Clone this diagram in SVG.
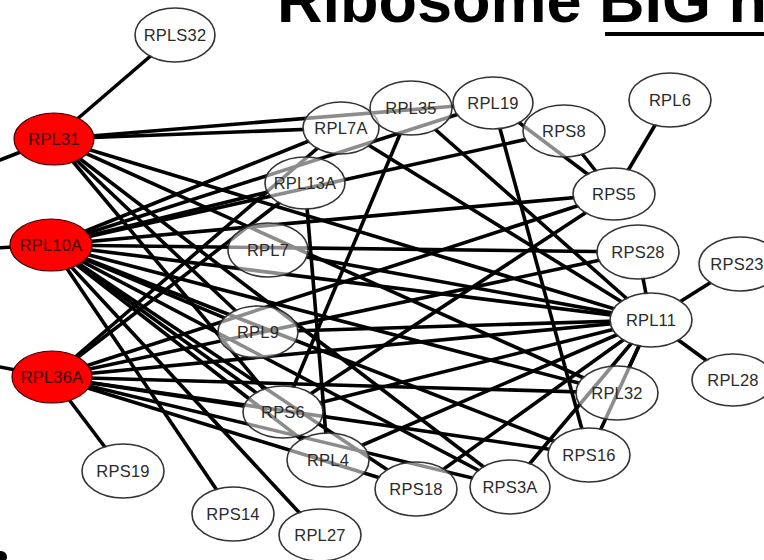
<svg xmlns="http://www.w3.org/2000/svg" width="764" height="560" viewBox="0 0 764 560">
<style>
.e{stroke:#000;stroke-width:3.6;fill:none;stroke-linecap:butt}
.n ellipse{fill:#fff;fill-opacity:0.55;stroke:#333;stroke-width:1.6}
.r ellipse{fill:#f00;fill-opacity:1;stroke:#400;stroke-width:1.2}
.n text{font-family:"Liberation Sans",Arial,sans-serif;font-size:16.5px;letter-spacing:0.2px;fill:#2a2a2a;text-anchor:middle;dominant-baseline:central}
.r text{fill:#3a0000}
.t{font-family:"Liberation Sans",Arial,sans-serif;font-weight:bold;font-size:63px;fill:#000}
</style>
<defs>
<mask id="kL31" maskUnits="userSpaceOnUse" x="-20" y="-20" width="804" height="600"><rect x="-20" y="-20" width="804" height="600" fill="#fff"/><ellipse cx="54" cy="139" rx="39" ry="25" fill="#000"/></mask>
<mask id="kL10A" maskUnits="userSpaceOnUse" x="-20" y="-20" width="804" height="600"><rect x="-20" y="-20" width="804" height="600" fill="#fff"/><ellipse cx="51" cy="245" rx="40" ry="25" fill="#000"/></mask>
<mask id="kL36A" maskUnits="userSpaceOnUse" x="-20" y="-20" width="804" height="600"><rect x="-20" y="-20" width="804" height="600" fill="#fff"/><ellipse cx="52" cy="377" rx="39" ry="25" fill="#000"/></mask>
<mask id="kS32" maskUnits="userSpaceOnUse" x="-20" y="-20" width="804" height="600"><rect x="-20" y="-20" width="804" height="600" fill="#fff"/><ellipse cx="175" cy="35" rx="39" ry="26" fill="#000"/></mask>
<mask id="kL7A" maskUnits="userSpaceOnUse" x="-20" y="-20" width="804" height="600"><rect x="-20" y="-20" width="804" height="600" fill="#fff"/><ellipse cx="341" cy="128" rx="37" ry="25" fill="#000"/></mask>
<mask id="kL35" maskUnits="userSpaceOnUse" x="-20" y="-20" width="804" height="600"><rect x="-20" y="-20" width="804" height="600" fill="#fff"/><ellipse cx="411" cy="108" rx="40" ry="26" fill="#000"/></mask>
<mask id="kL19" maskUnits="userSpaceOnUse" x="-20" y="-20" width="804" height="600"><rect x="-20" y="-20" width="804" height="600" fill="#fff"/><ellipse cx="493" cy="103" rx="39" ry="25" fill="#000"/></mask>
<mask id="kS8" maskUnits="userSpaceOnUse" x="-20" y="-20" width="804" height="600"><rect x="-20" y="-20" width="804" height="600" fill="#fff"/><ellipse cx="564" cy="131" rx="40" ry="25" fill="#000"/></mask>
<mask id="kL6" maskUnits="userSpaceOnUse" x="-20" y="-20" width="804" height="600"><rect x="-20" y="-20" width="804" height="600" fill="#fff"/><ellipse cx="670" cy="100" rx="40" ry="26" fill="#000"/></mask>
<mask id="kS5" maskUnits="userSpaceOnUse" x="-20" y="-20" width="804" height="600"><rect x="-20" y="-20" width="804" height="600" fill="#fff"/><ellipse cx="614" cy="194" rx="40" ry="25" fill="#000"/></mask>
<mask id="kL13A" maskUnits="userSpaceOnUse" x="-20" y="-20" width="804" height="600"><rect x="-20" y="-20" width="804" height="600" fill="#fff"/><ellipse cx="305" cy="183" rx="39" ry="25" fill="#000"/></mask>
<mask id="kL7" maskUnits="userSpaceOnUse" x="-20" y="-20" width="804" height="600"><rect x="-20" y="-20" width="804" height="600" fill="#fff"/><ellipse cx="268" cy="250" rx="39" ry="26" fill="#000"/></mask>
<mask id="kS28" maskUnits="userSpaceOnUse" x="-20" y="-20" width="804" height="600"><rect x="-20" y="-20" width="804" height="600" fill="#fff"/><ellipse cx="638" cy="252" rx="40" ry="26" fill="#000"/></mask>
<mask id="kS23" maskUnits="userSpaceOnUse" x="-20" y="-20" width="804" height="600"><rect x="-20" y="-20" width="804" height="600" fill="#fff"/><ellipse cx="740" cy="264" rx="40" ry="26" fill="#000"/></mask>
<mask id="kL11" maskUnits="userSpaceOnUse" x="-20" y="-20" width="804" height="600"><rect x="-20" y="-20" width="804" height="600" fill="#fff"/><ellipse cx="651" cy="320" rx="40" ry="26" fill="#000"/></mask>
<mask id="kL28" maskUnits="userSpaceOnUse" x="-20" y="-20" width="804" height="600"><rect x="-20" y="-20" width="804" height="600" fill="#fff"/><ellipse cx="733" cy="380" rx="40" ry="25" fill="#000"/></mask>
<mask id="kL9" maskUnits="userSpaceOnUse" x="-20" y="-20" width="804" height="600"><rect x="-20" y="-20" width="804" height="600" fill="#fff"/><ellipse cx="258" cy="332" rx="39" ry="25" fill="#000"/></mask>
<mask id="kS6" maskUnits="userSpaceOnUse" x="-20" y="-20" width="804" height="600"><rect x="-20" y="-20" width="804" height="600" fill="#fff"/><ellipse cx="283" cy="412" rx="39" ry="25" fill="#000"/></mask>
<mask id="kL4" maskUnits="userSpaceOnUse" x="-20" y="-20" width="804" height="600"><rect x="-20" y="-20" width="804" height="600" fill="#fff"/><ellipse cx="328" cy="460" rx="40" ry="26" fill="#000"/></mask>
<mask id="kS18" maskUnits="userSpaceOnUse" x="-20" y="-20" width="804" height="600"><rect x="-20" y="-20" width="804" height="600" fill="#fff"/><ellipse cx="416" cy="489" rx="40" ry="26" fill="#000"/></mask>
<mask id="kS3A" maskUnits="userSpaceOnUse" x="-20" y="-20" width="804" height="600"><rect x="-20" y="-20" width="804" height="600" fill="#fff"/><ellipse cx="510" cy="487" rx="39" ry="26" fill="#000"/></mask>
<mask id="kS16" maskUnits="userSpaceOnUse" x="-20" y="-20" width="804" height="600"><rect x="-20" y="-20" width="804" height="600" fill="#fff"/><ellipse cx="589" cy="455" rx="40" ry="26" fill="#000"/></mask>
<mask id="kL32" maskUnits="userSpaceOnUse" x="-20" y="-20" width="804" height="600"><rect x="-20" y="-20" width="804" height="600" fill="#fff"/><ellipse cx="617" cy="393" rx="40" ry="26" fill="#000"/></mask>
<mask id="kS19" maskUnits="userSpaceOnUse" x="-20" y="-20" width="804" height="600"><rect x="-20" y="-20" width="804" height="600" fill="#fff"/><ellipse cx="123" cy="471" rx="40" ry="26" fill="#000"/></mask>
<mask id="kS14" maskUnits="userSpaceOnUse" x="-20" y="-20" width="804" height="600"><rect x="-20" y="-20" width="804" height="600" fill="#fff"/><ellipse cx="233" cy="514" rx="40" ry="26" fill="#000"/></mask>
<mask id="kL27" maskUnits="userSpaceOnUse" x="-20" y="-20" width="804" height="600"><rect x="-20" y="-20" width="804" height="600" fill="#fff"/><ellipse cx="320" cy="535" rx="40" ry="25" fill="#000"/></mask>
</defs>
<rect width="764" height="560" fill="#fff"/>
<text class="t" x="277" y="22">Ribosome BIG n</text>
<rect x="605" y="32" width="159" height="4" fill="#000"/>
<ellipse cx="1" cy="557" rx="6" ry="6" fill="#000"/>
<g id="connectors">
<g mask="url(#kL31)">
<path class="e" mask="url(#kS32)" d="M54 139L175 35"/>
<path class="e" d="M54 139L-5 162"/>
<path class="e" mask="url(#kL7A)" d="M54 139L341 128"/>
<path class="e" mask="url(#kL19)" d="M54 139L493 103"/>
<path class="e" mask="url(#kL9)" d="M54 139L258 332"/>
<path class="e" mask="url(#kS6)" d="M54 139L283 412"/>
<path class="e" mask="url(#kS3A)" d="M54 139L510 487"/>
<path class="e" mask="url(#kL11)" d="M54 139L651 320"/>
<path class="e" mask="url(#kL32)" d="M54 139L617 393"/>
</g>
<g mask="url(#kL10A)">
<path class="e" d="M51 245L-5 248"/>
<path class="e" mask="url(#kL7A)" d="M51 245L341 128"/>
<path class="e" mask="url(#kL19)" d="M51 245L493 103"/>
<path class="e" mask="url(#kL13A)" d="M51 245L305 183"/>
<path class="e" mask="url(#kS8)" d="M51 245L564 131"/>
<path class="e" mask="url(#kS5)" d="M51 245L614 194"/>
<path class="e" mask="url(#kS28)" d="M51 245L638 252"/>
<path class="e" mask="url(#kL11)" d="M51 245L651 320"/>
<path class="e" mask="url(#kL32)" d="M51 245L617 393"/>
<path class="e" mask="url(#kL9)" d="M51 245L258 332"/>
<path class="e" mask="url(#kS16)" d="M51 245L589 455"/>
<path class="e" mask="url(#kS3A)" d="M51 245L510 487"/>
<path class="e" mask="url(#kS18)" d="M51 245L416 489"/>
<path class="e" mask="url(#kL4)" d="M51 245L328 460"/>
<path class="e" mask="url(#kS6)" d="M51 245L283 412"/>
<path class="e" mask="url(#kS14)" d="M51 245L233 514"/>
<path class="e" mask="url(#kL27)" d="M51 245L320 535"/>
</g>
<g mask="url(#kL36A)">
<path class="e" d="M52 377L-5 366"/>
<path class="e" mask="url(#kS19)" d="M52 377L123 471"/>
<path class="e" mask="url(#kL7A)" d="M52 377L341 128"/>
<path class="e" mask="url(#kL13A)" d="M52 377L305 183"/>
<path class="e" mask="url(#kS28)" d="M52 377L638 252"/>
<path class="e" mask="url(#kS5)" d="M52 377L614 194"/>
<path class="e" mask="url(#kL11)" d="M52 377L651 320"/>
<path class="e" mask="url(#kL32)" d="M52 377L617 393"/>
<path class="e" mask="url(#kS16)" d="M52 377L589 455"/>
<path class="e" mask="url(#kS3A)" d="M52 377L510 487"/>
<path class="e" mask="url(#kS18)" d="M52 377L416 489"/>
<path class="e" mask="url(#kS6)" d="M52 377L283 412"/>
</g>
<g mask="url(#kL11)">
<path class="e" mask="url(#kL7A)" d="M651 320L341 128"/>
<path class="e" mask="url(#kL35)" d="M651 320L411 108"/>
<path class="e" mask="url(#kL7)" d="M651 320L268 250"/>
<path class="e" mask="url(#kL9)" d="M651 320L258 332"/>
<path class="e" mask="url(#kS23)" d="M651 320L740 264"/>
<path class="e" mask="url(#kL28)" d="M651 320L733 380"/>
<path class="e" mask="url(#kS28)" d="M651 320L638 252"/>
<path class="e" mask="url(#kL32)" d="M651 320L617 393"/>
<path class="e" mask="url(#kS16)" d="M651 320L589 455"/>
<path class="e" mask="url(#kS3A)" d="M651 320L510 487"/>
<path class="e" mask="url(#kS18)" d="M651 320L416 489"/>
<path class="e" mask="url(#kL4)" d="M651 320L328 460"/>
<path class="e" mask="url(#kS6)" d="M651 320L283 412"/>
</g>
<g mask="url(#kS5)">
<path class="e" mask="url(#kL19)" d="M614 194L493 103"/>
<path class="e" mask="url(#kS8)" d="M614 194L564 131"/>
<path class="e" mask="url(#kL6)" d="M614 194L670 100"/>
<path class="e" mask="url(#kS6)" d="M614 194L283 412"/>
</g>
<g mask="url(#kL35)">
<path class="e" mask="url(#kS6)" d="M411 108L283 412"/>
</g>
<g mask="url(#kL19)">
<path class="e" mask="url(#kS16)" d="M493 103L589 455"/>
</g>
<g mask="url(#kL13A)">
<path class="e" mask="url(#kL4)" d="M305 183L328 460"/>
</g>
</g>
<g id="RPLS32" class="n"><ellipse cx="175" cy="35" rx="40" ry="27"/><text x="175" y="35">RPLS32</text></g>
<g id="RPL31" class="n r"><ellipse cx="54" cy="139" rx="40" ry="26"/><text x="54" y="139">RPL31</text></g>
<g id="RPL10A" class="n r"><ellipse cx="51" cy="245" rx="41" ry="26"/><text x="51" y="245">RPL10A</text></g>
<g id="RPL36A" class="n r"><ellipse cx="52" cy="377" rx="40" ry="26"/><text x="52" y="377">RPL36A</text></g>
<g id="RPL7A" class="n"><ellipse cx="341" cy="128" rx="38" ry="26"/><text x="341" y="128">RPL7A</text></g>
<g id="RPL35" class="n"><ellipse cx="411" cy="108" rx="41" ry="27"/><text x="411" y="108">RPL35</text></g>
<g id="RPL19" class="n"><ellipse cx="493" cy="103" rx="40" ry="26"/><text x="493" y="103">RPL19</text></g>
<g id="RPS8" class="n"><ellipse cx="564" cy="131" rx="41" ry="26"/><text x="564" y="131">RPS8</text></g>
<g id="RPL6" class="n"><ellipse cx="670" cy="100" rx="41" ry="27"/><text x="670" y="100">RPL6</text></g>
<g id="RPS5" class="n"><ellipse cx="614" cy="194" rx="41" ry="26"/><text x="614" y="194">RPS5</text></g>
<g id="RPL13A" class="n"><ellipse cx="305" cy="183" rx="40" ry="26"/><text x="305" y="183">RPL13A</text></g>
<g id="RPL7" class="n"><ellipse cx="268" cy="250" rx="40" ry="27"/><text x="268" y="250">RPL7</text></g>
<g id="RPS28" class="n"><ellipse cx="638" cy="252" rx="41" ry="27"/><text x="638" y="252">RPS28</text></g>
<g id="RPS23" class="n"><ellipse cx="740" cy="264" rx="41" ry="27"/><text x="737" y="264">RPS23</text></g>
<g id="RPL11" class="n"><ellipse cx="651" cy="320" rx="41" ry="27"/><text x="651" y="320">RPL11</text></g>
<g id="RPL28" class="n"><ellipse cx="733" cy="380" rx="41" ry="26"/><text x="733" y="380">RPL28</text></g>
<g id="RPL9" class="n"><ellipse cx="258" cy="332" rx="40" ry="26"/><text x="258" y="332">RPL9</text></g>
<g id="RPS6" class="n"><ellipse cx="283" cy="412" rx="40" ry="26"/><text x="283" y="412">RPS6</text></g>
<g id="RPL4" class="n"><ellipse cx="328" cy="460" rx="41" ry="27"/><text x="328" y="460">RPL4</text></g>
<g id="RPS18" class="n"><ellipse cx="416" cy="489" rx="41" ry="27"/><text x="416" y="489">RPS18</text></g>
<g id="RPS3A" class="n"><ellipse cx="510" cy="487" rx="40" ry="27"/><text x="510" y="487">RPS3A</text></g>
<g id="RPS16" class="n"><ellipse cx="589" cy="455" rx="41" ry="27"/><text x="589" y="455">RPS16</text></g>
<g id="RPL32" class="n"><ellipse cx="617" cy="393" rx="41" ry="27"/><text x="617" y="393">RPL32</text></g>
<g id="RPS19" class="n"><ellipse cx="123" cy="471" rx="41" ry="27"/><text x="123" y="471">RPS19</text></g>
<g id="RPS14" class="n"><ellipse cx="233" cy="514" rx="41" ry="27"/><text x="233" y="514">RPS14</text></g>
<g id="RPL27" class="n"><ellipse cx="320" cy="535" rx="41" ry="26"/><text x="320" y="535">RPL27</text></g>
</svg>
